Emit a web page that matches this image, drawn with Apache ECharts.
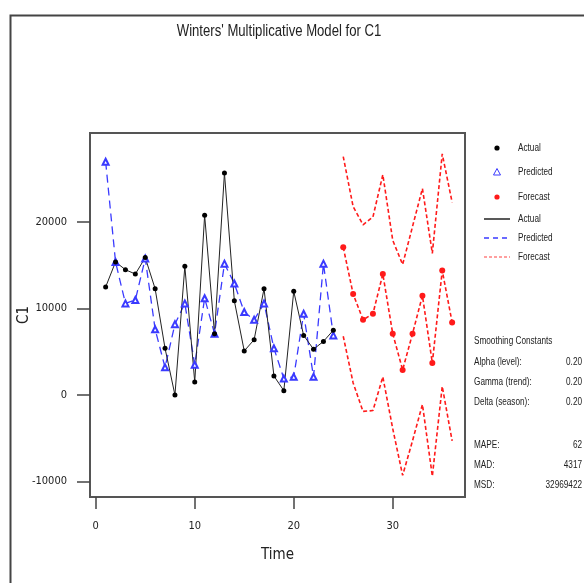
<!DOCTYPE html>
<html>
<head>
<meta charset="utf-8">
<title>Winters' Multiplicative Model for C1</title>
<script src="https://cdn.jsdelivr.net/npm/echarts@6/dist/echarts.min.js"></script>
<style>
  html, body { margin: 0; padding: 0; background: #fff; }
  #chart { width: 584px; height: 583px; }
</style>
</head>
<body>
<div id="chart"></div>
<script>
// data
var timeActual = [1, 2, 3, 4, 5, 6, 7, 8, 9, 10, 11, 12, 13, 14, 15, 16, 17, 18, 19, 20, 21, 22, 23, 24];
var actual = [12500, 15400, 14500, 14000, 15900, 12300, 5400, 0, 14900, 1500, 20800, 7100, 25700, 10900, 5100, 6400, 12300, 2200, 500, 12000, 6900, 5300, 6200, 7500];
var predicted = [27000, 15400, 10600, 11000, 15800, 7600, 3200, 8200, 10600, 3500, 11200, 7100, 15200, 12900, 9600, 8700, 10600, 5400, 1900, 2100, 9400, 2100, 15200, 6900];
var timeForecast = [25, 26, 27, 28, 29, 30, 31, 32, 33, 34, 35, 36];
var forecast = [17100, 11700, 8700, 9400, 14000, 7100, 2900, 7100, 11500, 3700, 14400, 8400];
var upper = [27600, 21800, 19700, 20600, 25500, 17900, 15100, 19500, 23900, 16400, 27900, 22300];
var lower = [6800, 1400, -1900, -1800, 2100, -3900, -9300, -5300, -1100, -9400, 1000, -5300];
var xTicks = [0, 10, 20, 30];
var yTicks = [-10000, 0, 10000, 20000];
var smoothing = [["Alpha (level):", "0.20"], ["Gamma (trend):", "0.20"], ["Delta (season):", "0.20"]];
var accuracy = [["MAPE:", "62"], ["MAD:", "4317"], ["MSD:", "32969422"]];

(function() {
  var myChart = echarts.init(document.getElementById("chart"));
  var font = "'DejaVu Sans Condensed', 'Liberation Sans Narrow', 'Liberation Sans', Arial, sans-serif";
  var red = "#ff1a1a", blue = "#3a3aff";

  function pairs(xs, ys) {
    return xs.map(function(x, i) { return [x, ys[i]]; });
  }
  // narrow text: Minitab's font is condensed, so squeeze it a bit
  function label(x, y, text, size, align) {
    return { type: "text", x: x, y: y, scaleX: 0.82,
      style: { text: text, font: size + "px 'Liberation Sans', Arial, sans-serif", fill: "#222",
        verticalAlign: "middle", align: align || "left" } };
  }

  var graphic = [
    { type: "rect", left: 8, top: 13, shape: { width: 620, height: 620 },
      style: { fill: "none", stroke: "#444", lineWidth: 2 }, silent: true },
    label(279, 32, "Winters' Multiplicative Model for C1", 16, "center")
  ];
  var legendRows = [
    { y: 148, kind: "dot", color: "#000", text: "Actual" },
    { y: 172, kind: "tri", color: blue, text: "Predicted" },
    { y: 197, kind: "dot", color: red, text: "Forecast" },
    { y: 219, kind: "line", color: "#222", dash: null, text: "Actual" },
    { y: 238, kind: "line", color: blue, dash: [5, 4], text: "Predicted" },
    { y: 257, kind: "line", color: "#ff8080", dash: [3, 2], text: "Forecast" }
  ];
  legendRows.forEach(function(r) {
    if (r.kind === "dot") {
      graphic.push({ type: "circle", shape: { cx: 497, cy: r.y, r: 2.6 }, style: { fill: r.color } });
    } else if (r.kind === "tri") {
      graphic.push({ type: "polygon", shape: { points: [[497, r.y - 3.5], [500.5, r.y + 3], [493.5, r.y + 3]] },
        style: { fill: "#fff", stroke: r.color, lineWidth: 1 } });
    } else {
      graphic.push({ type: "line", shape: { x1: 484, y1: r.y, x2: 510, y2: r.y },
        style: { stroke: r.color, lineWidth: 1.5, lineDash: r.dash } });
    }
    graphic.push(label(518, r.y, r.text, 10));
  });
  graphic.push(label(474, 341, "Smoothing Constants", 10));
  smoothing.concat([null]).concat(accuracy).forEach(function(row, i) {
    if (!row) return;
    var y = i < 3 ? 362 + i * 20 : 445 + (i - 4) * 20;
    graphic.push(label(474, y, row[0], 10));
    graphic.push(label(582, y, row[1], 10, "right"));
  });

  var option = {
    animation: false,
    backgroundColor: "#fff",
    grid: {
      left: 90, top: 133, right: 119, bottom: 86,
      outerBoundsMode: "none", containLabel: false,
      show: true, borderColor: "#555", borderWidth: 2, backgroundColor: "#fff"
    },
    xAxis: {
      type: "value", min: -0.58, max: 37.3,
      name: "Time", nameLocation: "middle", nameGap: 51, nameMoveOverlap: false,
      nameTextStyle: { fontFamily: font, fontSize: 15, color: "#222" },
      axisLine: { show: false, onZero: false },
      axisTick: { show: true, length: 12, customValues: xTicks, lineStyle: { color: "#444", width: 1.5 } },
      axisLabel: { customValues: xTicks, margin: 24, fontFamily: font, fontSize: 11, color: "#222" },
      splitLine: { show: false }
    },
    yAxis: {
      type: "value", min: -11806, max: 30324,
      name: "C1", nameLocation: "middle", nameGap: 58, nameMoveOverlap: false,
      nameTextStyle: { fontFamily: font, fontSize: 15, color: "#222" },
      axisLine: { show: false, onZero: false },
      axisTick: { show: true, length: 13, customValues: yTicks, lineStyle: { color: "#444", width: 1.5 } },
      axisLabel: { customValues: yTicks, margin: 23, fontFamily: font, fontSize: 11, color: "#222",
        formatter: function(v) { return String(v); } },
      splitLine: { show: false }
    },
    graphic: graphic,
    series: [
      { name: "Predicted", type: "line", data: pairs(timeActual, predicted),
        symbol: "emptyTriangle", symbolSize: 6,
        itemStyle: { color: blue, borderWidth: 1 },
        lineStyle: { color: blue, width: 1.3, type: [8, 5] } },
      { name: "Actual", type: "line", data: pairs(timeActual, actual),
        symbol: "circle", symbolSize: 5,
        itemStyle: { color: "#000" },
        lineStyle: { color: "#222", width: 1 } },
      { name: "Upper", type: "line", data: pairs(timeForecast, upper), showSymbol: false, symbol: "none",
        lineStyle: { color: red, width: 1.6, type: [4, 2.5] } },
      { name: "Lower", type: "line", data: pairs(timeForecast, lower), showSymbol: false, symbol: "none",
        lineStyle: { color: red, width: 1.6, type: [4, 2.5] } },
      { name: "Forecast", type: "line", data: pairs(timeForecast, forecast),
        symbol: "circle", symbolSize: 6,
        itemStyle: { color: red },
        lineStyle: { color: red, width: 1.6, type: [4, 2.5] } }
    ]
  };
  myChart.setOption(option);

  window.addEventListener("resize", function() {
    myChart.resize();
  });
})();
</script>
</body>
</html>
